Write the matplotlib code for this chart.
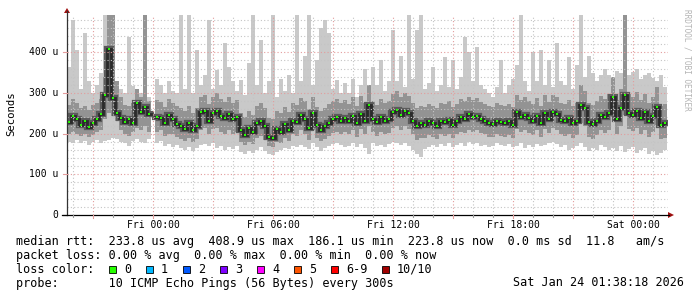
import numpy as np
import matplotlib
matplotlib.use("Agg")
import matplotlib.pyplot as plt
from matplotlib.patches import Polygon, Rectangle

nan = np.nan

# ---- data (microseconds), 12-minute steps starting Thu 19:42 (hours relative to Fri 00:00)
start_h = -4.3
step_h = 0.2

med = [228, 243, 236, 222, 231, 217, 226, 236, 248, 295,
       409, 287, 250, 238, 229, 235, 226, 275, 252, 266,
       248, nan, 241, 238, 226, 246, 236, 224, 218, 212,
       225, 208, 219, 252, 255, 231, 250, 256, 244, 238,
       248, 236, 242, 210, 197, 214, 205, 226, 232, 220,
       192, 190, 212, 205, 223, 208, 232, 228, 246, 236,
       214, 250, 222, 210, 218, 226, 236, 240, 232, 238,
       230, 244, 226, 248, 232, 270, 236, 228, 240, 232,
       236, 252, 258, 246, 256, 250, 232, 218, 226, 222,
       230, 226, 220, 232, 228, 234, 222, 230, 242, 236,
       248, 240, 244, 236, 230, 226, 224, 232, 228, 226,
       230, 222, 252, 240, 246, 238, 230, 244, 226, 250,
       236, 252, 248, 234, 230, 238, 226, 232, 270, 262,
       228, 224, 232, 246, 240, 250, 290, 236, 262, 295,
       250, 246, 256, 238, 252, 230, 244, 266, 222, 226]

hi = [365, 480, 405, 310, 447, 330, 300, 320, 350, 500,
      500, 500, 295, 310, 300, 438, 318, 305, 300, 500,
      290, nan, 335, 320, 300, 330, 305, 300, 500, 310,
      500, 300, 405, 320, 345, 480, 310, 356, 320, 423,
      364, 330, 305, 332, 295, 374, 500, 320, 430, 300,
      330, 500, 290, 335, 305, 345, 300, 500, 330, 390,
      500, 320, 380, 460, 480, 447, 310, 332, 300, 325,
      300, 335, 290, 320, 360, 310, 364, 320, 380, 305,
      330, 455, 330, 390, 315, 500, 335, 455, 500, 310,
      325, 364, 305, 320, 389, 315, 380, 310, 340, 438,
      400, 330, 413, 320, 310, 300, 290, 315, 381, 300,
      320, 335, 370, 500, 330, 305, 400, 330, 405, 320,
      380, 315, 423, 330, 320, 389, 310, 370, 500, 340,
      390, 350, 330, 345, 360, 345, 340, 355, 350, 500,
      345, 352, 360, 335, 345, 350, 338, 330, 345, 315]

lo = [180, 176, 185, 178, 182, 172, 180, 184, 176, 182,
      185, 190, 188, 180, 176, 170, 182, 186, 180, 178,
      186, nan, 178, 182, 170, 175, 168, 172, 165, 160,
      168, 158, 165, 172, 174, 170, 176, 164, 170, 160,
      168, 162, 170, 155, 150, 158, 152, 160, 166, 158,
      150, 148, 156, 160, 165, 162, 170, 168, 172, 166,
      162, 176, 168, 158, 164, 170, 174, 178, 172, 166,
      170, 176, 168, 174, 165, 150, 178, 170, 172, 168,
      174, 180, 176, 172, 178, 170, 160, 150, 142, 162,
      168, 172, 166, 175, 170, 178, 168, 172, 176, 170,
      180, 174, 178, 170, 172, 168, 170, 176, 172, 170,
      174, 168, 170, 176, 165, 172, 168, 175, 170, 172,
      176, 180, 174, 166, 172, 160, 164, 170, 176, 168,
      158, 164, 160, 172, 168, 160, 165, 158, 170, 155,
      162, 168, 152, 160, 165, 150, 158, 148, 152, 160]

q1 = [198, 205, 200, 195, 200, 192, 196, 204, 210, 236,
      250, 244, 230, 210, 200, 195, 205, 215, 210, 220,
      205, nan, 205, 208, 195, 200, 198, 192, 188, 182,
      190, 180, 188, 210, 215, 200, 212, 215, 205, 200,
      210, 200, 205, 180, 172, 180, 175, 190, 195, 185,
      170, 168, 180, 178, 190, 182, 198, 195, 210, 200,
      185, 210, 190, 182, 188, 195, 202, 205, 198, 205,
      198, 210, 192, 212, 198, 220, 205, 195, 205, 198,
      202, 215, 220, 210, 218, 212, 198, 185, 190, 190,
      196, 192, 188, 200, 195, 200, 190, 198, 205, 202,
      210, 205, 208, 202, 198, 192, 192, 198, 195, 192,
      196, 190, 212, 205, 208, 202, 196, 208, 192, 212,
      202, 215, 210, 198, 195, 200, 190, 196, 225, 220,
      192, 188, 196, 208, 202, 210, 240, 200, 220, 245,
      212, 206, 215, 198, 210, 192, 205, 222, 188, 190]

q3 = [270, 285, 275, 262, 268, 258, 270, 275, 285, 340,
      500, 500, 330, 290, 270, 268, 275, 310, 290, 500,
      280, nan, 282, 278, 265, 285, 275, 268, 262, 255,
      268, 250, 262, 290, 295, 272, 290, 300, 285, 278,
      290, 275, 282, 250, 240, 255, 245, 268, 275, 262,
      238, 235, 255, 250, 265, 252, 275, 270, 288, 280,
      260, 290, 265, 255, 262, 272, 280, 285, 275, 282,
      272, 290, 268, 292, 276, 320, 280, 270, 285, 275,
      280, 298, 305, 290, 300, 292, 275, 262, 268, 265,
      272, 268, 262, 275, 272, 280, 265, 274, 285, 280,
      290, 282, 288, 278, 272, 268, 266, 275, 270, 268,
      272, 265, 295, 282, 290, 280, 272, 288, 268, 295,
      278, 295, 290, 276, 272, 282, 268, 276, 320, 305,
      275, 270, 280, 292, 285, 298, 340, 282, 310, 500,
      298, 290, 302, 282, 298, 275, 290, 315, 268, 272]

x_tick_hours = [0, 6, 12, 18, 24]
x_tick_labels = ["Fri 00:00", "Fri 06:00", "Fri 12:00", "Fri 18:00", "Sat 00:00"]
y_ticks = [0, 100, 200, 300, 400]
y_tick_labels = ["0", "100 u", "200 u", "300 u", "400 u"]

loss_labels = ["0", "1", "2", "3", "4", "5", "6-9", "10/10"]
loss_colors = ["#26ff00", "#00b8ff", "#0059ff", "#7e00ff", "#ff00ff", "#ff5500", "#ff0000", "#a10000"]

stats_line = "median rtt:  233.8 us avg  408.9 us max  186.1 us min  223.8 us now  0.0 ms sd  11.8   am/s"
loss_line = "packet loss: 0.00 % avg  0.00 % max  0.00 % min  0.00 % now"
probe_line = "probe:       10 ICMP Echo Pings (56 Bytes) every 300s"
stamp = "Sat Jan 24 01:38:18 2026"
watermark = "RRDTOOL / TOBI OETIKER"

# ---- figure
W, H = 697, 297
fig = plt.figure(figsize=(W / 100, H / 100), dpi=100)
fig.patch.set_facecolor("white")

def fx(px):
    return px / W

def fy(py):
    return 1 - py / H

ax_l, ax_r, ax_t, ax_b = 67, 668, 15, 215
ax = fig.add_axes([fx(ax_l), fy(ax_b), (ax_r - ax_l) / W, (ax_b - ax_t) / H])
ymax = 491.7
ax.set_xlim(-4.3, 25.75)
ax.set_ylim(0, ymax)
for s in ax.spines.values():
    s.set_visible(False)
ax.set_xticks([])
ax.set_yticks([])

t = start_h + step_h * np.arange(len(med))
med_a = np.array(med, float)
hi_a = np.array(hi, float)
lo_a = np.array(lo, float)
q1_a = np.array(q1, float)
q3_a = np.array(q3, float)

ax.bar(t, hi_a - lo_a, bottom=lo_a, width=step_h, align="edge",
       color="#c9c9c9", linewidth=0, zorder=1)
ax.bar(t, q3_a - q1_a, bottom=q1_a, width=step_h, align="edge",
       color="#939393", linewidth=0, zorder=1.2)
ax.plot(t + step_h / 2, med_a, drawstyle="steps-mid", color="#5a5a5a",
        linewidth=4.5, solid_joinstyle="miter", zorder=1.4)
ax.plot(t + step_h / 2, med_a, drawstyle="steps-mid", color="#2a2a2a",
        linewidth=2.0, solid_joinstyle="miter", zorder=1.5)

# grid (drawn over the smoke, as rrdtool does)
for h in range(-4, 26):
    major = (h % 3 == 0)
    ax.axvline(h, color="#e39c9c" if major else "#c4c4c4", lw=0.8,
               ls=(0, (1, 2)), zorder=2)
for v in range(20, 491, 20):
    major = (v % 100 == 0)
    ax.axhline(v, color="#e39c9c" if major else "#c4c4c4", lw=0.8,
               ls=(0, (1, 2)), zorder=2)

ax.plot(t + step_h / 2, med_a, "s", color="#26ff00", ms=1.7, mew=0, zorder=4)

# axes lines, ticks and arrows (pixel coordinates)
def line_px(x0, y0, x1, y1, color, lw=1.0):
    fig.add_artist(plt.Line2D([fx(x0), fx(x1)], [fy(y0), fy(y1)],
                              transform=fig.transFigure, color=color, lw=lw))

line_px(ax_l, ax_b, ax_l, 11, "#333333", 0.9)
line_px(62, ax_b, 669, ax_b, "#000000", 0.9)
fig.add_artist(Polygon([[fx(64), fy(13)], [fx(70), fy(13)], [fx(67), fy(8)]],
                       closed=True, transform=fig.transFigure,
                       facecolor="#a01010", edgecolor="none"))
fig.add_artist(Polygon([[fx(668), fy(212)], [fx(668), fy(218)], [fx(674), fy(215)]],
                       closed=True, transform=fig.transFigure,
                       facecolor="#a01010", edgecolor="none"))

mono = "DejaVu Sans Mono"
for v, lab in zip(y_ticks, y_tick_labels):
    ypx = ax_b - v * (ax_b - ax_t) / ymax
    line_px(63, ypx, ax_l, ypx, "#000000" if v == 0 else "#e39c9c", 0.8)
    fig.text(fx(58), fy(ypx), lab, ha="right", va="center", family=mono,
             fontsize=7, color="#000000")

for h in range(-4, 26):
    xpx = ax_l + (h + 4.3) * 20
    major = (h % 3 == 0)
    line_px(xpx, ax_b, xpx, ax_b + (3 if major else 2),
            "#e39c9c" if major else "#999999", 0.8)
for h, lab in zip(x_tick_hours, x_tick_labels):
    xpx = ax_l + (h + 4.3) * 20
    fig.text(fx(xpx), fy(225), lab, ha="center", va="center", family=mono,
             fontsize=7, color="#000000")

fig.text(fx(11), fy(114), "Seconds", rotation=90, ha="center", va="center",
         family=mono, fontsize=7.7, color="#000000")
fig.text(fx(687), fy(60), watermark, rotation=270, ha="center", va="center",
         family=mono, fontsize=5.6, color="#b4b4b4")

# legend block
fs = 8.5
fig.text(fx(16), fy(241.5), stats_line, ha="left", va="center", family=mono, fontsize=fs)
fig.text(fx(16), fy(255.5), loss_line, ha="left", va="center", family=mono, fontsize=fs)
fig.text(fx(16), fy(269.5), "loss color:", ha="left", va="center", family=mono, fontsize=fs)
box_x = [109, 146, 183, 220, 257, 294, 331, 382]
for bx, col, lab in zip(box_x, loss_colors, loss_labels):
    fig.add_artist(Rectangle((fx(bx), fy(273)), 7 / W, 7 / H, transform=fig.transFigure,
                             facecolor=col, edgecolor="#000000", lw=0.6))
    fig.text(fx(bx + 15), fy(269.5), lab, ha="left", va="center", family=mono, fontsize=fs)
fig.text(fx(16), fy(283), probe_line, ha="left", va="center", family=mono, fontsize=fs)
fig.text(fx(513), fy(283), stamp, ha="left", va="center", family=mono, fontsize=fs)

fig.savefig("out.png", dpi=100, facecolor="white")
